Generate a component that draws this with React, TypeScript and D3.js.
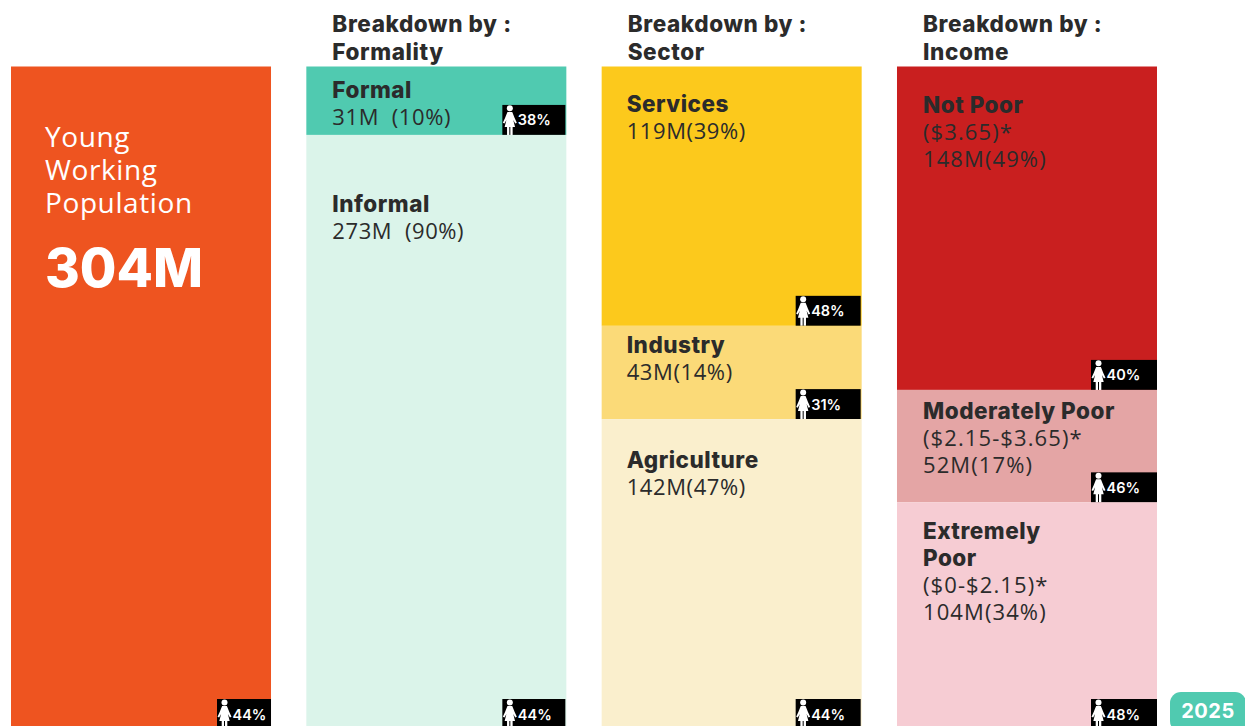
import React from "react";
import * as d3 from "d3";

const totalLabel = "304M";
const totalValue = [304];
const totalFemale = "44%";
const headers = ["Formality", "Sector", "Income"];
const formalityNames = ["Formal", "Informal"];
const formalityValues = [31.4, 272.6];
const formalityText = ["31M  (10%)", "273M  (90%)"];
const formalityFemale = ["38%", "44%"];
const sectorNames = ["Services", "Industry", "Agriculture"];
const sectorValues = [119, 42.8, 142.2];
const sectorText = ["119M(39%)", "43M(14%)", "142M(47%)"];
const sectorFemale = ["48%", "31%", "44%"];
const incomeNames = [["Not Poor"], ["Moderately Poor"], ["Extremely", "Poor"]];
const incomeValues = [148.4, 51.6, 104];
const incomeText = [["($3.65)*", "148M(49%)"], ["($2.15-$3.65)*", "52M(17%)"], ["($0-$2.15)*", "104M(34%)"]];
const incomeFemale = ["40%", "46%", "48%"];

const FONT = "'Open Sans', 'Noto Sans', sans-serif";
const HEAD = "Inter, 'Open Sans', sans-serif";
const DARK = "#2b2b2b";

const y = d3.scaleLinear().domain([0, 304]).range([66.5, 729]);
const band = d3.scaleBand<number>().domain([0, 1, 2, 3]).range([11, 1157]).paddingInner(0.1196).paddingOuter(0);

type Seg = { name: string[]; lines: string[]; value: number; female: string; color: string; dy: number };

function Woman({ x, y: top, h }: { x: number; y: number; h: number }) {
  const s = h / 30;
  return (
    <g transform={`translate(${x},${top}) scale(${s})`} fill="#fff">
      <circle cx="7" cy="3.4" r="3" />
      <path d="M4.6 7 H9.4 L11.8 13 L14 17.8 L12.4 18.6 L10.4 15 L12.2 22 H9.8 V30 H7.5 V22 H6.5 V30 H4.2 V22 H1.8 L3.6 15 L1.6 18.6 L0 17.8 L2.2 13 Z" />
    </g>
  );
}

function Badge({ right, bottom, text, wide }: { right: number; bottom: number; text: string; wide: number }) {
  const h = 30;
  const x = right - wide;
  return (
    <g>
      <rect x={x} y={bottom - h} width={wide} height={h} fill="#000" />
      <Woman x={x + 0.5} y={bottom - h} h={30} />
      <text x={x + 15.5} y={bottom - 9.5} fill="#fff" fontFamily={HEAD} fontSize={14.5} fontWeight={600}>{text}</text>
    </g>
  );
}

function Stack({ col, segs, badgeW, badgeInset, offset, spacing }: { col: number; segs: Seg[]; badgeW: number; badgeInset: number; offset: number; spacing: number }) {
  const x = band(col)!;
  const w = band.bandwidth();
  let acc = 0;
  return (
    <g>
      {segs.map((s, i) => {
        const top = y(acc);
        acc += s.value;
        const bot = y(acc);
        return (
          <g key={i}>
            <rect x={x} y={top} width={w} height={bot - top} fill={s.color} />
            <g transform={`translate(${x + offset},${top})`}>
              {s.name.map((n, j) => (
                <text key={j} y={s.dy + j * 27} fontFamily={HEAD} fontSize={22.5} fontWeight={800} letterSpacing={0.5} fill={DARK}>{n}</text>
              ))}
              {s.lines.map((n, j) => (
                <text key={j} y={s.dy + (s.name.length + j) * 27} fontFamily={FONT} fontSize={22} fill={DARK} letterSpacing={spacing} style={{ whiteSpace: "pre" }}>{n}</text>
              ))}
            </g>
            <Badge right={x + w - badgeInset} bottom={bot} text={s.female} wide={badgeW} />
          </g>
        );
      })}
    </g>
  );
}

const formalityColors = ["#50cab0", "#dbf4ea"];
const sectorColors = ["#fcc91c", "#fbda78", "#faefcd"];
const incomeColors = ["#c91f1f", "#e4a5a5", "#f6ccd3"];
const formalityDy = [31.5, 77];
const sectorDy = [45.5, 27.5, 48.5];
const incomeDy = [46.5, 29.5, 37];

export default function App() {
  const fSegs: Seg[] = formalityNames.map((n, i) => ({ name: [n], lines: [formalityText[i]], value: formalityValues[i], female: formalityFemale[i], color: formalityColors[i], dy: formalityDy[i] }));
  const sSegs: Seg[] = sectorNames.map((n, i) => ({ name: [n], lines: [sectorText[i]], value: sectorValues[i], female: sectorFemale[i], color: sectorColors[i], dy: sectorDy[i] }));
  const iSegs: Seg[] = incomeNames.map((n, i) => ({ name: n, lines: incomeText[i], value: incomeValues[i], female: incomeFemale[i], color: incomeColors[i], dy: incomeDy[i] }));
  const x0 = band(0)!;
  const w = band.bandwidth();
  return (
    <svg width={1245} height={726} style={{ position: "fixed", left: 0, top: 0, background: "#fff" }}>
      <rect x={x0} y={y(0)} width={w} height={y(totalValue[0]) - y(0)} fill="#ee5420" />
      {["Young", "Working", "Population"].map((t, i) => (
        <text key={t} x={x0 + 34} y={147 + i * 33} fontFamily={FONT} fontSize={28} fill="#fff" letterSpacing={0.6}>{t}</text>
      ))}
      <text x={x0 + 34} y={287} fontFamily={HEAD} fontSize={53} fontWeight={800} fill="#fff">{totalLabel}</text>
      <Badge right={x0 + w} bottom={y(totalValue[0])} text={totalFemale} wide={54} />
      <Stack col={1} segs={fSegs} badgeW={63} badgeInset={1} offset={26} spacing={0.6} />
      <Stack col={2} segs={sSegs} badgeW={65} badgeInset={1} offset={25} spacing={0.6} />
      <Stack col={3} segs={iSegs} badgeW={66} badgeInset={0} offset={26} spacing={1.1} />
      {headers.map((h, i) => (
        <g key={h} fontFamily={HEAD} fontSize={22.5} fontWeight={800} letterSpacing={0.6} fill={DARK}>
          <text x={band(i + 1)! + 26} y={32}>Breakdown by :</text>
          <text x={band(i + 1)! + 26} y={60}>{h}</text>
        </g>
      ))}
      <rect x={1170} y={692} width={76} height={40} rx={11} fill="#50cab0" />
      <text x={1208} y={718} textAnchor="middle" fontFamily={HEAD} fontSize={20} fontWeight={700} letterSpacing={0.5} fill="#fff">2025</text>
    </svg>
  );
}
